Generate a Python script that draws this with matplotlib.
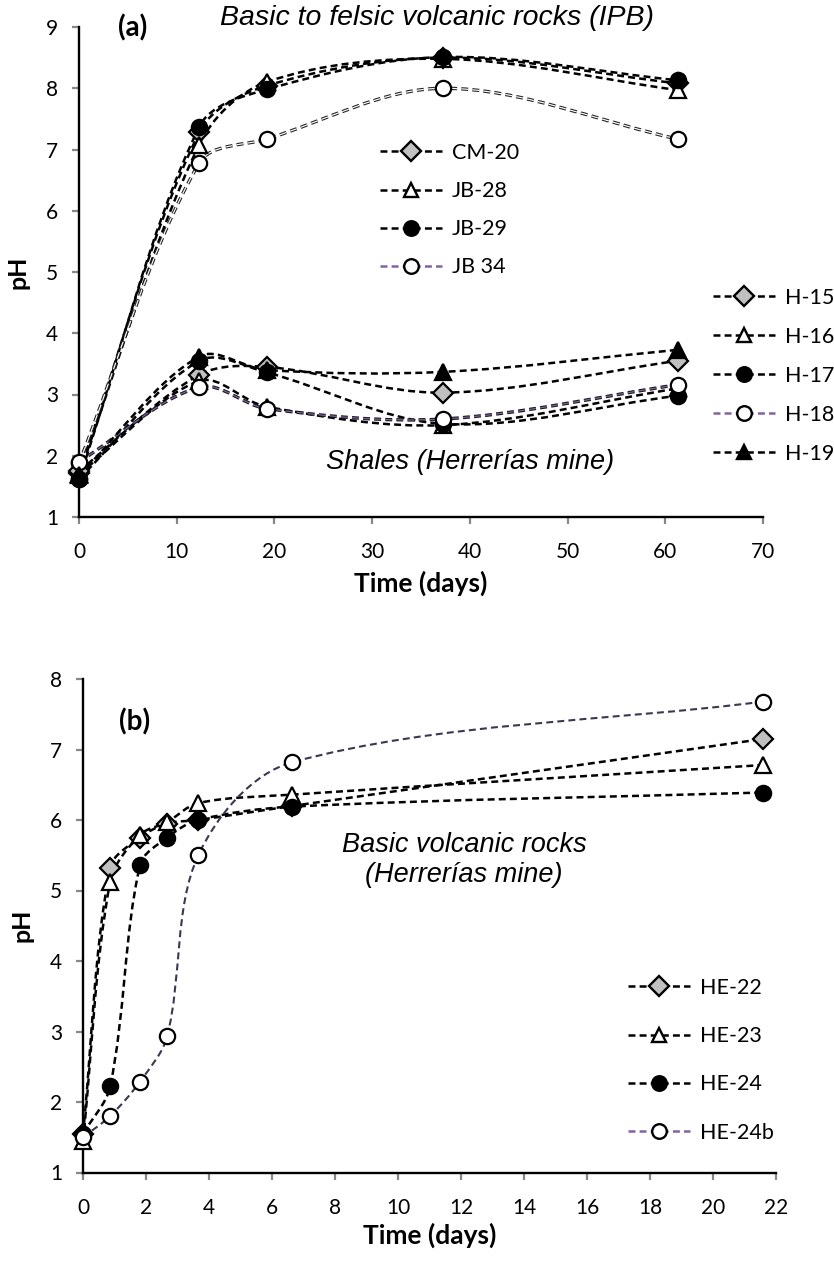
import numpy as np
import matplotlib
matplotlib.use('Agg')
import matplotlib.pyplot as plt
from matplotlib.lines import Line2D
from matplotlib.path import Path
from matplotlib.patches import PathPatch

plt.rcParams['font.family'] = ['Lato', 'DejaVu Sans']
plt.rcParams['lines.scale_dashes'] = False

# ---- panel (a): pH vs time, IPB volcanic rocks and Herrerias shales
t_a = [0, 12.3, 19.2, 37.3, 61.3]
ph_cm20 = [1.72, 7.28, 8.04, 8.50, 8.08]
ph_jb28 = [1.70, 7.08, 8.10, 8.48, 7.97]
ph_jb29 = [1.62, 7.37, 7.98, 8.51, 8.13]
ph_jb34 = [1.88, 6.78, 7.17, 8.00, 7.17]
ph_h15 = [1.75, 3.32, 3.45, 3.03, 3.55]
ph_h16 = [1.70, 3.22, 2.80, 2.50, 3.10]
ph_h17 = [1.62, 3.55, 3.36, 2.52, 2.98]
ph_h18 = [1.90, 3.12, 2.77, 2.60, 3.16]
ph_h19 = [1.68, 3.62, 3.40, 3.37, 3.73]

# ---- panel (b): Herrerias basic volcanic rocks
t_b = [0, 0.86, 1.81, 2.67, 3.66, 6.65, 21.6]
ph_he22 = [1.55, 5.32, 5.75, 5.95, 6.00, 6.20, 7.15]
ph_he23 = [1.45, 5.12, 5.79, 5.97, 6.24, 6.36, 6.78]
ph_he24 = [1.55, 2.22, 5.36, 5.75, 6.00, 6.19, 6.39]
ph_he24b = [1.50, 1.80, 2.29, 2.93, 5.50, 6.82, 7.68]

W, H = 834, 1261
GRAY = '#c0c0c0'
PURPLE = '#8064a2'
DASH = (0, (5, 3))


def fx(px):
    return px / W


def fy(py):
    return 1 - py / H


def smooth_path(ax, x, y):
    """Excel-like smoothed line: Bezier segments, tangents weighted by chord length
    (computed in screen space, then mapped back to data space)"""
    tr = ax.transData
    p = tr.transform(np.column_stack([x, y]).astype(float))
    verts = [p[0]]
    codes = [Path.MOVETO]
    n = len(p)
    for i in range(n - 1):
        p0 = p[i - 1] if i > 0 else p[i]
        p1, p2 = p[i], p[i + 1]
        p3 = p[i + 2] if i + 2 < n else p[i + 1]
        d0 = np.hypot(*(p1 - p0))
        d1 = np.hypot(*(p2 - p1))
        d2 = np.hypot(*(p3 - p2))
        c1 = p1 + (p2 - p0) * (d1 / (d0 + d1)) / 3.0
        c2 = p2 - (p3 - p1) * (d1 / (d1 + d2)) / 3.0
        verts += [c1, c2, p2]
        codes += [Path.CURVE4] * 3
    verts = tr.inverted().transform(np.array(verts))
    return Path(verts, codes)


def smooth_line(ax, x, y, color='black', lw=1.6, inner=None):
    path = smooth_path(ax, x, y)
    ax.add_patch(PathPatch(path, fill=False, edgecolor=color, lw=lw,
                           linestyle=DASH, clip_on=False, zorder=2))
    if inner is not None:
        # outlined dashes (thin light core)
        ax.add_patch(PathPatch(path, fill=False, edgecolor=inner, lw=lw * 0.35,
                               linestyle=DASH, clip_on=False, zorder=2))


def markers(ax, x, y, marker, face, ms=11):
    ax.plot(x, y, linestyle='none', marker=marker, ms=ms, mfc=face, mec='black',
            mew=1.6, clip_on=False, zorder=3)


def style_axes(ax):
    for s in ['top', 'right']:
        ax.spines[s].set_visible(False)
    for s in ['left', 'bottom']:
        ax.spines[s].set_linewidth(1.7)
        ax.spines[s].set_color('black')
    ax.tick_params(direction='out', length=5, width=1.6, color='#888888',
                   labelsize=15)
    ax.tick_params(axis='x', pad=13)
    ax.tick_params(axis='y', pad=10)


def handle(marker, face, line='black'):
    return Line2D([], [], color=line, lw=1.8, linestyle=DASH, marker=marker,
                  ms=10.5, mfc=face, mec='black', mew=1.7)


fig = plt.figure(figsize=(W / 100, H / 100), dpi=100)
LEG = dict(bbox_transform=fig.transFigure, frameon=False, fontsize=15.5,
           handlelength=2.9, handletextpad=0.45, borderpad=0, borderaxespad=0,
           loc='upper left')

# ================= panel (a)
ax1 = fig.add_axes([fx(79), fy(517), fx(763 - 79), (517 - 27) / H])
ax1.set_xlim(0, 70)
ax1.set_ylim(1, 9)
series_a = [
    (ph_cm20, 'D', GRAY, 'black', 1.8, None),
    (ph_jb28, '^', 'white', 'black', 1.8, None),
    (ph_jb29, 'o', 'black', 'black', 1.8, None),
    (ph_jb34, 'o', 'white', '#222222', 2.4, 'white'),
    (ph_h15, 'D', GRAY, 'black', 1.8, None),
    (ph_h16, '^', 'white', 'black', 1.8, None),
    (ph_h17, 'o', 'black', 'black', 1.8, None),
    (ph_h18, 'o', 'white', '#1a1a1a', 2.4, PURPLE),
    (ph_h19, '^', 'black', 'black', 1.8, None),
]
for y, m, face, lc, lw, inner in series_a:
    smooth_line(ax1, t_a, y, color=lc, lw=lw, inner=inner)
for y, m, face, lc, lw, inner in series_a:
    markers(ax1, t_a, y, m, face, ms=10 if m == 'D' else 11)

ax1.set_xticks(range(0, 71, 10))
ax1.set_yticks(range(1, 10))
style_axes(ax1)
ax1.set_xlabel('Time (days)', fontsize=19, fontweight='bold', labelpad=6)
ax1.set_ylabel('pH', fontsize=18, fontweight='bold', labelpad=12)

leg1 = ax1.legend([handle('D', GRAY), handle('^', 'white'), handle('o', 'black'),
                   handle('o', 'white', PURPLE)],
                  ['CM-20', 'JB-28', 'JB-29', 'JB 34'],
                  bbox_to_anchor=(fx(380), fy(143)), labelspacing=0.84, **LEG)
ax1.add_artist(leg1)
ax1.legend([handle('D', GRAY), handle('^', 'white'), handle('o', 'black'),
            handle('o', 'white', PURPLE), handle('^', 'black')],
           ['H-15', 'H-16', 'H-17', 'H-18', 'H-19'],
           bbox_to_anchor=(fx(713), fy(288)), labelspacing=0.88, **LEG)

fig.text(fx(437), fy(18), 'Basic to felsic volcanic rocks (IPB)', ha='center',
         va='center', fontsize=20.5, style='italic', family='Liberation Sans')
fig.text(fx(118), fy(28), '(a)', ha='left', va='center', fontsize=20,
         fontweight='bold')
fig.text(fx(470), fy(462), 'Shales (Herrerías mine)', ha='center', va='center',
         fontsize=19.5, style='italic', family='Liberation Sans')

# ================= panel (b)
ax2 = fig.add_axes([fx(83), fy(1172.5), fx(776 - 83), (1172.5 - 679) / H])
ax2.set_xlim(0, 22)
ax2.set_ylim(1, 8)
series_b = [
    (ph_he22, 'D', GRAY, 'black', 1.8),
    (ph_he23, '^', 'white', 'black', 1.8),
    (ph_he24, 'o', 'black', 'black', 1.8),
    (ph_he24b, 'o', 'white', '#3c3650', 1.5),
]
for y, m, face, lc, lw in series_b:
    smooth_line(ax2, t_b, y, color=lc, lw=lw)
for y, m, face, lc, lw in series_b:
    markers(ax2, t_b, y, m, face, ms=10 if m == 'D' else 11)

ax2.set_xticks(range(0, 23, 2))
ax2.set_yticks(range(1, 9))
style_axes(ax2)
ax2.set_xlabel('Time (days)', fontsize=19, fontweight='bold', labelpad=4)
ax2.set_ylabel('pH', fontsize=18, fontweight='bold', labelpad=12)

ax2.legend([handle('D', GRAY), handle('^', 'white'), handle('o', 'black'),
            handle('o', 'white', PURPLE)],
           ['HE-22', 'HE-23', 'HE-24', 'HE-24b'],
           bbox_to_anchor=(fx(628), fy(978)), labelspacing=1.31, **LEG)

fig.text(fx(119), fy(722), '(b)', ha='left', va='center', fontsize=20,
         fontweight='bold')
fig.text(fx(464), fy(860), 'Basic volcanic rocks\n(Herrerías mine)', ha='center',
         va='center', fontsize=19.5, style='italic', family='Liberation Sans',
         linespacing=1.15)

fig.savefig('out.png', dpi=100)
